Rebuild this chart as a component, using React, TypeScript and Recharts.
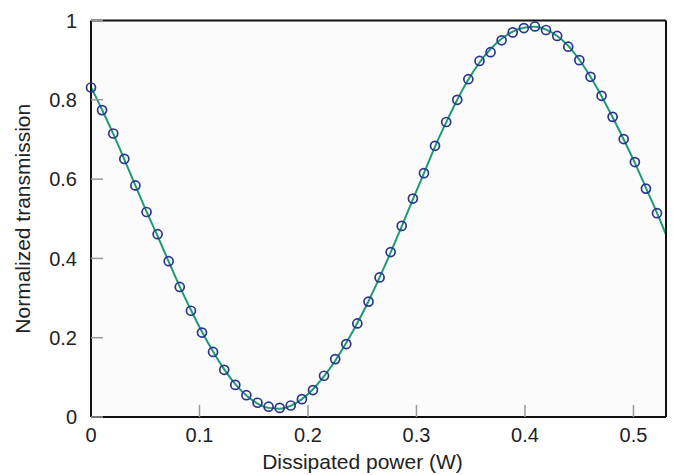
import { ComposedChart, Line, Scatter, XAxis, YAxis, CartesianGrid } from "recharts"

// measured points (W, normalized)
const power = [
  0, 0.0102, 0.0205, 0.0307, 0.0409, 0.0512, 0.0614, 0.0716, 0.0818, 0.0921,
  0.1023, 0.1125, 0.1228, 0.133, 0.1432, 0.1535, 0.1637, 0.1739, 0.1841, 0.1944,
  0.2046, 0.2148, 0.2251, 0.2353, 0.2455, 0.2558, 0.266, 0.2762, 0.2864, 0.2967,
  0.3069, 0.3171, 0.3274, 0.3376, 0.3478, 0.3581, 0.3683, 0.3785, 0.3887, 0.399,
  0.4092, 0.4194, 0.4297, 0.4399, 0.4501, 0.4604, 0.4706, 0.4808, 0.491, 0.5013,
  0.5115, 0.5217,
]
const measured = [
  0.831, 0.774, 0.715, 0.651, 0.584, 0.517, 0.461, 0.393, 0.328, 0.268,
  0.213, 0.164, 0.119, 0.081, 0.055, 0.036, 0.026, 0.023, 0.029, 0.045,
  0.068, 0.104, 0.146, 0.184, 0.236, 0.291, 0.352, 0.416, 0.482, 0.551,
  0.615, 0.684, 0.744, 0.8, 0.852, 0.898, 0.92, 0.95, 0.97, 0.981,
  0.985, 0.976, 0.961, 0.934, 0.9, 0.858, 0.81, 0.757, 0.701, 0.643,
  0.576, 0.514,
]

// fitted curve
const fitPower = [
  0, 0.0102, 0.0205, 0.0307, 0.0409, 0.0512, 0.0614, 0.0716, 0.0818, 0.0921,
  0.1023, 0.1125, 0.1228, 0.133, 0.1432, 0.1535, 0.1637, 0.1739, 0.1841, 0.1944,
  0.2046, 0.2148, 0.2251, 0.2353, 0.2455, 0.2558, 0.266, 0.2762, 0.2864, 0.2967,
  0.3069, 0.3171, 0.3274, 0.3376, 0.3478, 0.3581, 0.3683, 0.3785, 0.3887, 0.399,
  0.4092, 0.4194, 0.4297, 0.4399, 0.4501, 0.4604, 0.4706, 0.4808, 0.491, 0.5013,
  0.5115, 0.5217, 0.53,
]
const fitValues = [
  0.832, 0.775, 0.714, 0.65, 0.584, 0.518, 0.456, 0.392, 0.329, 0.27,
  0.215, 0.165, 0.12, 0.083, 0.054, 0.034, 0.023, 0.021, 0.028, 0.045,
  0.07, 0.103, 0.142, 0.187, 0.237, 0.292, 0.352, 0.415, 0.481, 0.549,
  0.615, 0.682, 0.743, 0.8, 0.851, 0.894, 0.928, 0.954, 0.972, 0.982,
  0.984, 0.977, 0.961, 0.936, 0.901, 0.858, 0.809, 0.756, 0.7, 0.641,
  0.578, 0.515, 0.46,
]

const xTicks = [0, 0.1, 0.2, 0.3, 0.4, 0.5]
const yTicks = [0, 0.2, 0.4, 0.6, 0.8, 1]

const measRows = power.map((p, i) => ({ p, t: measured[i] }))
const fitRows = fitPower.map((p, i) => ({ p, t: fitValues[i] }))

const FONT = '"Liberation Sans", Arial, sans-serif'
const frame = { stroke: "#111", strokeWidth: 2 }
const tickLn = { stroke: "#999", strokeWidth: 1.5 }
const tickText = { fontSize: 20, fill: "#222", fontFamily: FONT }

function Ring(props: any) {
  const { cx, cy } = props
  if (cx == null || cy == null) return null
  return <circle cx={cx} cy={cy} r={4.5} fill="none" stroke="#2b368a" strokeWidth={1.7} />
}

export default function App() {
  return (
    <div style={{ position: "absolute", left: 0, top: 0, background: "#fff" }}>
      <ComposedChart width={673} height={475} margin={{ top: 19.5, right: 6, bottom: 0, left: 0 }}>
        <CartesianGrid horizontal={false} vertical={false} fill="#fbfbfb" />
        <XAxis
          type="number"
          dataKey="p"
          domain={[0, 0.53]}
          ticks={xTicks}
          height={58}
          tickSize={-12}
          tickMargin={23}
          axisLine={frame}
          tickLine={tickLn}
          tick={tickText}
          label={{
            value: "Dissipated power (W)",
            position: "insideBottom",
            offset: 6,
            dx: -16,
            style: { fontSize: 21, fill: "#222", fontFamily: FONT },
          }}
        />
        <XAxis
          xAxisId="top"
          orientation="top"
          type="number"
          dataKey="p"
          domain={[0, 0.53]}
          ticks={xTicks}
          height={1}
          tickSize={-12}
          axisLine={frame}
          tickLine={tickLn}
          tick={false}
        />
        <YAxis
          type="number"
          domain={[0, 1]}
          ticks={yTicks}
          width={91}
          tickSize={-12}
          tickMargin={26}
          axisLine={frame}
          tickLine={tickLn}
          tick={tickText}
          label={{
            value: "Normalized transmission",
            angle: -90,
            position: "insideLeft",
            offset: 23,
            style: { textAnchor: "middle", fontSize: 21, fill: "#222", fontFamily: FONT },
          }}
        />
        <YAxis
          yAxisId="right"
          orientation="right"
          type="number"
          domain={[0, 1]}
          ticks={yTicks}
          width={1}
          tickSize={-12}
          axisLine={frame}
          tickLine={tickLn}
          tick={false}
        />
        <Line
          data={fitRows}
          dataKey="t"
          type="monotone"
          stroke="#1f9a78"
          strokeWidth={2}
          dot={false}
          activeDot={false}
          isAnimationActive={false}
        />
        <Scatter data={measRows} dataKey="t" shape={Ring} isAnimationActive={false} />
      </ComposedChart>
    </div>
  )
}
